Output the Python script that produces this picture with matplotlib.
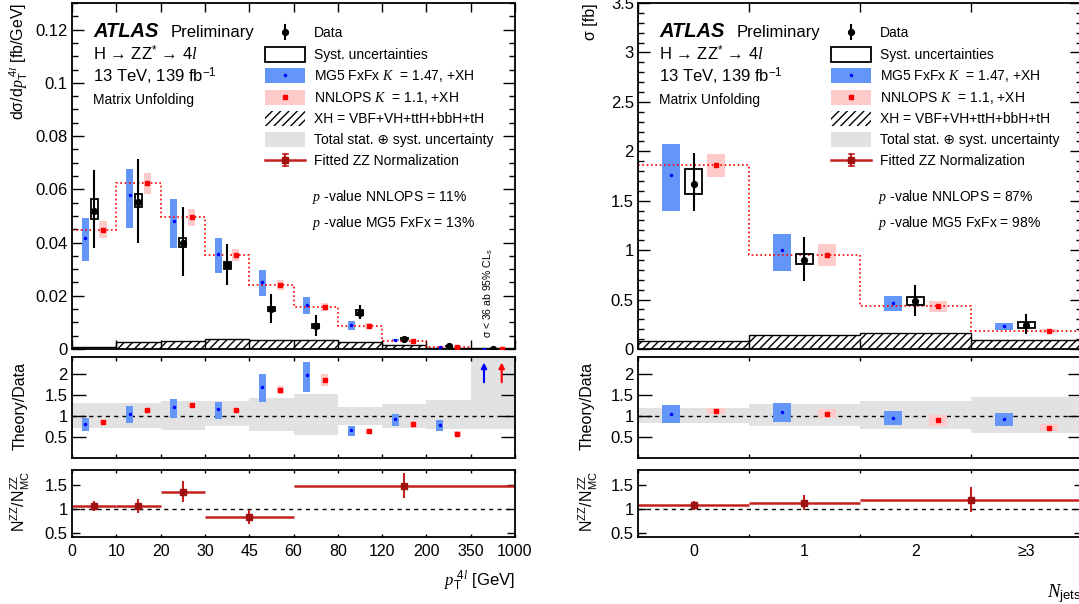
import numpy as np
import matplotlib
matplotlib.use('Agg')
import matplotlib.pyplot as plt
from matplotlib.patches import Rectangle
from matplotlib.lines import Line2D

plt.rcParams['font.family'] = ['Liberation Sans', 'DejaVu Sans']
plt.rcParams['mathtext.fontset'] = 'custom'
plt.rcParams['mathtext.rm'] = 'Liberation Sans'
plt.rcParams['mathtext.it'] = 'Liberation Serif:italic'
plt.rcParams['mathtext.bf'] = 'Liberation Sans:bold'
plt.rcParams['mathtext.sf'] = 'Liberation Sans'
plt.rcParams['hatch.linewidth'] = 1.0

# ---------------- pT(4l) ----------------
pt_labels = ['0', '10', '20', '30', '45', '60', '80', '120', '200', '350', '1000']
pt_data = [0.0519, 0.0553, 0.0399, 0.0315, 0.0150, 0.0087, 0.0137, 0.0038, 0.0011, 0.0]
pt_err_hi = [0.0674, 0.0715, 0.0535, 0.0393, 0.0208, 0.0126, 0.0167, 0.0045, 0.0016, 0.0]
pt_err_lo = [0.0378, 0.0400, 0.0273, 0.0239, 0.0097, 0.0050, 0.0113, 0.0031, 0.0006, 0.0]
pt_syst_hi = [0.0564, 0.0581, 0.0417, 0.0326, 0.0157, 0.0094, 0.0147, 0.0040, 0.0012, 0.0]
pt_syst_lo = [0.0489, 0.0533, 0.0383, 0.0302, 0.0142, 0.0079, 0.0127, 0.0036, 0.0010, 0.0]
pt_mg5 = [0.0418, 0.0577, 0.0481, 0.0358, 0.0252, 0.0166, 0.0092, 0.0034, 0.0007, 0.0001]
pt_mg5_hi = [0.0491, 0.0678, 0.0563, 0.0417, 0.0296, 0.0195, 0.0105, 0.0038, 0.0009, 0.0002]
pt_mg5_lo = [0.0331, 0.0456, 0.0378, 0.0286, 0.0199, 0.0132, 0.0072, 0.0029, 0.0005, 0.0000]
pt_nnlops = [0.0448, 0.0623, 0.0495, 0.0353, 0.0239, 0.0157, 0.0087, 0.0029, 0.0008, 0.0001]
pt_nnlops_hi = [0.0481, 0.0661, 0.0525, 0.0374, 0.0258, 0.0173, 0.0097, 0.0033, 0.0010, 0.0002]
pt_nnlops_lo = [0.0418, 0.0583, 0.0463, 0.0331, 0.0220, 0.0142, 0.0077, 0.0025, 0.0006, 0.0000]
pt_xh = [0.0006, 0.0025, 0.0031, 0.0036, 0.0034, 0.0034, 0.0025, 0.0015, 0.0004, 0.0002]

pt_band_hi = [1.316, 1.30, 1.355, 1.355, 1.43, 1.51, 1.22, 1.28, 1.38, 2.6]
pt_band_lo = [0.708, 0.708, 0.67, 0.75, 0.63, 0.55, 0.78, 0.72, 0.70, 0.68]
pt_mg5_r = [0.80, 1.055, 1.21, 1.16, 1.69, 1.97, 0.66, 0.92, 0.78, np.nan]
pt_mg5_r_hi = [0.945, 1.24, 1.41, 1.34, 1.99, 2.29, 0.76, 1.055, 0.90, np.nan]
pt_mg5_r_lo = [0.63, 0.82, 0.945, 0.92, 1.34, 1.57, 0.53, 0.76, 0.645, np.nan]
pt_nnlops_r = [0.866, 1.134, 1.25, 1.134, 1.62, 1.85, 0.63, 0.80, 0.58, np.nan]
pt_nnlops_r_hi = [0.906, 1.189, 1.313, 1.189, 1.72, 2.0, 0.685, 0.88, 0.647, np.nan]
pt_nnlops_r_lo = [0.826, 1.079, 1.187, 1.079, 1.52, 1.70, 0.575, 0.72, 0.513, np.nan]
pt_arrow = (1.80, 2.27)   # off-scale ratio in the last bin

pt_nzz_edges = [0, 1, 2, 3, 5, 10]
pt_nzz = [1.06, 1.065, 1.345, 0.84, 1.476]
pt_nzz_hi = [1.17, 1.21, 1.565, 0.98, 1.74]
pt_nzz_lo = [0.95, 0.92, 1.14, 0.69, 1.23]

# ---------------- N jets ----------------
nj_labels = ['0', '1', '2', '\u22653']
nj_data = [1.674, 0.903, 0.484, 0.247]
nj_err_hi = [1.978, 1.133, 0.643, 0.355]
nj_err_lo = [1.397, 0.686, 0.331, 0.152]
nj_syst_hi = [1.816, 0.964, 0.524, 0.277]
nj_syst_lo = [1.566, 0.862, 0.450, 0.213]
nj_mg5 = [1.765, 0.998, 0.467, 0.230]
nj_mg5_hi = [2.073, 1.160, 0.541, 0.267]
nj_mg5_lo = [1.397, 0.788, 0.382, 0.193]
nj_nnlops = [1.860, 0.947, 0.433, 0.179]
nj_nnlops_hi = [1.972, 1.058, 0.490, 0.203]
nj_nnlops_lo = [1.735, 0.839, 0.372, 0.159]
nj_xh = [0.078, 0.145, 0.162, 0.095]

nj_band_hi = [1.18, 1.28, 1.355, 1.46]
nj_band_lo = [0.83, 0.76, 0.68, 0.59]
nj_mg5_r = [1.055, 1.10, 0.96, 0.93]
nj_mg5_r_hi = [1.25, 1.30, 1.12, 1.08]
nj_mg5_r_lo = [0.83, 0.865, 0.79, 0.77]
nj_nnlops_r = [1.11, 1.055, 0.897, 0.724]
nj_nnlops_r_hi = [1.18, 1.16, 1.016, 0.81]
nj_nnlops_r_lo = [1.04, 0.94, 0.76, 0.645]

nj_nzz_edges = [0, 1, 2, 4]
nj_nzz = [1.083, 1.124, 1.18]
nj_nzz_hi = [1.17, 1.29, 1.45]
nj_nzz_lo = [0.98, 0.966, 0.93]

BLUE = '#6496fa'
PINK = '#ffcaca'
GRAY = '#e2e2e2'
ZZRED = '#c4201e'
ZZMARK = '#a01212'

W, H = 1079, 604
fig = plt.figure(figsize=(W / 100, H / 100), dpi=100)


def fx(px):
    return px / W


def fy(py):
    return 1 - py / H


def add_axes(x0, x1, y0, y1):
    return fig.add_axes([fx(x0), fy(y1), (x1 - x0) / W, (y1 - y0) / H])


def frame(ax, ylen, xlen, minor_len=None):
    for s in ax.spines.values():
        s.set_linewidth(1.3)
    ax.tick_params(which='both', direction='in', top=True, right=True,
                   width=1.0, labelsize=12, pad=3)
    ax.tick_params(axis='y', which='major', length=ylen)
    ax.tick_params(axis='x', which='major', length=xlen)
    if minor_len:
        ax.tick_params(axis='y', which='minor', length=minor_len)
    else:
        ax.tick_params(axis='y', which='minor', length=0)
    ax.tick_params(axis='x', which='minor', length=0)


def panel(x0, x1, d, on_edges):
    n = len(d['data'])
    # bin i spans [i, i+1] in index units
    edges = np.arange(n + 1)
    cen = np.arange(n) + 0.5
    a = lambda k: np.asarray(d[k], dtype=float)

    # main panel
    ax = add_axes(x0, x1, 3, 349)
    ax.bar(edges[:-1], a('xh'), width=1, align='edge', fill=False, hatch='////',
           edgecolor='black', lw=0, zorder=1)
    ax.stairs(a('xh'), edges, baseline=None, color='black', lw=1.0, zorder=1.5)
    ax.bar(cen - 0.2, a('mg5_hi') - a('mg5_lo'), bottom=a('mg5_lo'), width=0.16,
           color=BLUE, lw=0, zorder=2)
    ax.plot(cen - 0.2, a('mg5'), ls='none', marker='o', ms=1.5, color='blue', zorder=3)
    ax.bar(cen + 0.2, a('nnlops_hi') - a('nnlops_lo'), bottom=a('nnlops_lo'),
           width=0.16, color=PINK, lw=0, zorder=2)
    ax.stairs(a('nnlops'), edges, baseline=None, color='red', lw=1.2,
              ls=(0, (1, 1.6)), zorder=2.5)
    ax.plot(cen + 0.2, a('nnlops'), ls='none', marker='s', ms=3, color='red', zorder=3)
    ax.bar(cen, a('syst_hi') - a('syst_lo'), bottom=a('syst_lo'), width=0.16,
           fill=False, edgecolor='black', lw=1.3, zorder=4)
    ax.errorbar(cen, a('data'), yerr=[a('data') - a('err_lo'), a('err_hi') - a('data')],
                fmt='o', ms=4.2, color='black', lw=1.5, capsize=0, zorder=5)
    ax.set_xlim(0, n)
    ax.set_ylim(0, d['ymax'])
    ax.set_yticks(np.arange(0, d['ymax'] + 1e-9, d['ystep']))
    ax.set_yticks(np.arange(0, d['ymax'] + 1e-9, d['ystep'] / d['nminor']), minor=True)
    ax.set_yticklabels(d['yticklabels'])
    ax.set_xticks(edges)
    ax.set_xticklabels([])
    frame(ax, 8.6, 6.5, 4.3)

    # theory / data
    ar = add_axes(x0, x1, 357, 458)
    ar.bar(edges[:-1], a('band_hi') - a('band_lo'), bottom=a('band_lo'), width=1,
           align='edge', color=GRAY, lw=0, zorder=1)
    ar.axhline(1, color='black', lw=1.0, ls=(0, (3, 3)), zorder=2)
    ar.bar(cen - 0.2, a('mg5_r_hi') - a('mg5_r_lo'), bottom=a('mg5_r_lo'), width=0.16,
           color=BLUE, lw=0, zorder=3)
    ar.plot(cen - 0.2, a('mg5_r'), ls='none', marker='o', ms=1.5, color='blue', zorder=4)
    ar.bar(cen + 0.2, a('nnlops_r_hi') - a('nnlops_r_lo'), bottom=a('nnlops_r_lo'),
           width=0.16, color=PINK, lw=0, zorder=3)
    ar.plot(cen + 0.2, a('nnlops_r'), ls='none', marker='s', ms=3, color='red', zorder=4)
    if d.get('arrow'):
        lo, hi = d['arrow']
        for off, col in ((-0.2, 'blue'), (0.2, 'red')):
            ar.annotate('', xy=(cen[-1] + off, hi), xytext=(cen[-1] + off, lo),
                        arrowprops=dict(arrowstyle='-|>', color=col, lw=1.5,
                                        mutation_scale=8, shrinkA=0, shrinkB=0),
                        zorder=5)
    ar.set_xlim(0, n)
    ar.set_ylim(0.0, 2.4)
    ar.set_yticks([0.5, 1, 1.5, 2])
    ar.set_yticklabels(['0.5', '1', '1.5', '2'])
    ar.set_xticks(edges)
    ar.set_xticklabels([])
    frame(ar, 10, 3)

    # fitted ZZ normalisation
    az = add_axes(x0, x1, 470, 537)
    ze = np.asarray(d['nzz_edges'], dtype=float)
    zv = a('nzz')
    zc = 0.5 * (ze[:-1] + ze[1:])
    az.axhline(1, color='black', lw=1.0, ls=(0, (3, 3)), zorder=1)
    az.hlines(zv, ze[:-1], ze[1:], color=ZZRED, lw=1.8, zorder=2)
    az.errorbar(zc, zv, yerr=[zv - a('nzz_lo'), a('nzz_hi') - zv], fmt='s', ms=4.5,
                color=ZZMARK, ecolor=ZZRED, lw=1.5, capsize=0, zorder=3)
    az.set_xlim(0, n)
    az.set_ylim(0.42, 1.8)
    az.set_yticks([0.5, 1, 1.5])
    az.set_yticklabels(['0.5', '1', '1.5'])
    frame(az, 6, 2.5)
    if on_edges:
        az.set_xticks(edges)
        az.set_xticklabels(d['xlabels'])
    else:
        az.set_xticks(edges)
        az.set_xticklabels([])
        az.set_xticks(cen, minor=True)
        az.set_xticklabels(d['xlabels'], minor=True)
    az.tick_params(axis='x', which='both', labelsize=11.5, pad=5)
    return ax, ar, az


def legend_and_text(x0, pvals):
    X = lambda dx: fx(x0 + dx)
    t = fig.text
    t(X(21), fy(37), 'ATLAS', fontsize=14.5, fontweight='bold', fontstyle='italic',
      va='baseline')
    t(X(99), fy(37), 'Preliminary', fontsize=12, va='baseline')
    t(X(21), fy(60), 'H \u2192 ZZ$^{*}$ \u2192 4$l$', fontsize=12, va='baseline')
    t(X(21), fy(82), '13 TeV, 139 fb$^{\\mathregular{-1}}$', fontsize=12, va='baseline')
    t(X(21), fy(104), 'Matrix Unfolding', fontsize=10, va='baseline')

    rows = [32, 54, 75, 97, 118, 139, 160]
    names = ['Data', 'Syst. uncertainties', 'MG5 FxFx $K$  = 1.47, +XH',
             'NNLOPS $K$  = 1.1, +XH', 'XH = VBF+VH+ttH+bbH+tH',
             'Total stat. \u2295 syst. uncertainty', 'Fitted ZZ Normalization']
    kx0, kx1 = 193, 233
    kc = 0.5 * (kx0 + kx1)
    for y, name in zip(rows, names):
        t(X(242), fy(y + 5), name, fontsize=10, va='baseline')

    def box(y, **kw):
        fig.add_artist(Rectangle((X(kx0), fy(y + 7.5)), (kx1 - kx0) / W, 15 / H,
                                 transform=fig.transFigure, **kw))

    def line(xs, ys, **kw):
        fig.add_artist(Line2D([X(v) for v in xs], [fy(v) for v in ys],
                              transform=fig.transFigure, **kw))

    line([kc, kc], [rows[0] - 7, rows[0] + 7], color='black', lw=1.5)
    line([kc], [rows[0]], marker='o', ms=4.2, color='black', ls='none')
    box(rows[1], fill=False, edgecolor='black', lw=1.3)
    box(rows[2], facecolor=BLUE, lw=0)
    line([kc], [rows[2]], marker='o', ms=1.5, color='blue', ls='none')
    box(rows[3], facecolor=PINK, lw=0)
    line([kc], [rows[3]], marker='s', ms=3, color='red', ls='none')
    box(rows[4], fill=False, hatch='////', edgecolor='black', lw=0)
    box(rows[5], facecolor=GRAY, lw=0)
    line([kx0, kx1], [rows[6], rows[6]], color=ZZRED, lw=1.8)
    line([kc, kc], [rows[6] - 6.5, rows[6] + 6.5], color=ZZRED, lw=1.5)
    line([kc - 2.5, kc + 2.5], [rows[6] - 6.5, rows[6] - 6.5], color=ZZRED, lw=1.2)
    line([kc - 2.5, kc + 2.5], [rows[6] + 6.5, rows[6] + 6.5], color=ZZRED, lw=1.2)
    line([kc], [rows[6]], marker='s', ms=4.5, color=ZZMARK, ls='none')

    t(X(240), fy(201), '$p$ -value NNLOPS = %s' % pvals[0], fontsize=10, va='baseline')
    t(X(240), fy(227), '$p$ -value MG5 FxFx = %s' % pvals[1], fontsize=10, va='baseline')


pt = dict(data=pt_data, err_hi=pt_err_hi, err_lo=pt_err_lo, syst_hi=pt_syst_hi,
          syst_lo=pt_syst_lo, mg5=pt_mg5, mg5_hi=pt_mg5_hi, mg5_lo=pt_mg5_lo,
          nnlops=pt_nnlops, nnlops_hi=pt_nnlops_hi, nnlops_lo=pt_nnlops_lo, xh=pt_xh,
          band_hi=pt_band_hi, band_lo=pt_band_lo, mg5_r=pt_mg5_r, mg5_r_hi=pt_mg5_r_hi,
          mg5_r_lo=pt_mg5_r_lo, nnlops_r=pt_nnlops_r, nnlops_r_hi=pt_nnlops_r_hi,
          nnlops_r_lo=pt_nnlops_r_lo, arrow=pt_arrow, nzz_edges=pt_nzz_edges,
          nzz=pt_nzz, nzz_hi=pt_nzz_hi, nzz_lo=pt_nzz_lo, xlabels=pt_labels,
          ymax=0.13, ystep=0.02, nminor=4,
          yticklabels=['0', '0.02', '0.04', '0.06', '0.08', '0.1', '0.12'])
nj = dict(data=nj_data, err_hi=nj_err_hi, err_lo=nj_err_lo, syst_hi=nj_syst_hi,
          syst_lo=nj_syst_lo, mg5=nj_mg5, mg5_hi=nj_mg5_hi, mg5_lo=nj_mg5_lo,
          nnlops=nj_nnlops, nnlops_hi=nj_nnlops_hi, nnlops_lo=nj_nnlops_lo, xh=nj_xh,
          band_hi=nj_band_hi, band_lo=nj_band_lo, mg5_r=nj_mg5_r, mg5_r_hi=nj_mg5_r_hi,
          mg5_r_lo=nj_mg5_r_lo, nnlops_r=nj_nnlops_r, nnlops_r_hi=nj_nnlops_r_hi,
          nnlops_r_lo=nj_nnlops_r_lo, nzz_edges=nj_nzz_edges, nzz=nj_nzz,
          nzz_hi=nj_nzz_hi, nzz_lo=nj_nzz_lo, xlabels=nj_labels,
          ymax=3.5, ystep=0.5, nminor=5,
          yticklabels=['0', '0.5', '1', '1.5', '2', '2.5', '3', '3.5'])

axL, arL, azL = panel(72, 515, pt, True)
axR, arR, azR = panel(638, 1082, nj, False)

# upper limit in the last pT bin
axL.text(9.4, 0.004, '\u03c3 < 36 ab 95% CL$_\\mathregular{s}$', rotation=90,
         fontsize=7.5, ha='center', va='bottom')

legend_and_text(72, ('11%', '13%'))
legend_and_text(638, ('87%', '98%'))

# axis titles
lab = dict(fontsize=11.5, rotation=90, ha='center')
fig.text(fx(19), fy(3), 'd\u03c3/d$p_{\\mathrm{T}}^{\\ 4l}$ [fb/GeV]', va='top', **lab)
fig.text(fx(20), fy(406), 'Theory/Data', va='center', **lab)
fig.text(fx(20), fy(502), '$\\mathregular{N^{ZZ}/N^{ZZ}_{MC}}$', va='center', **lab)
fig.text(fx(591), fy(3), '\u03c3 [fb]', va='top', **lab)
fig.text(fx(587), fy(406), 'Theory/Data', va='center', **lab)
fig.text(fx(588), fy(502), '$\\mathregular{N^{ZZ}/N^{ZZ}_{MC}}$', va='center', **lab)
fig.text(fx(515), fy(586), '$p_{\\mathrm{T}}^{\\ 4l}$ [GeV]', fontsize=12,
         ha='right', va='baseline')
fig.text(fx(1082), fy(597), '$N_{\\mathrm{jets}}$', fontsize=13.5, ha='right',
         va='baseline')

fig.savefig('out.png', dpi=100)
